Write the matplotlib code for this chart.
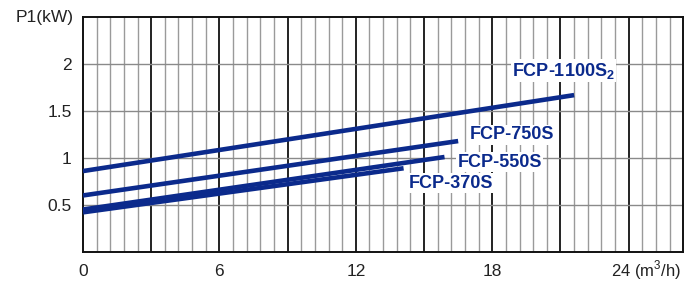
import numpy as np
import matplotlib.pyplot as plt

plt.rcParams['font.family'] = ['Liberation Sans', 'DejaVu Sans']
plt.rcParams['mathtext.fontset'] = 'custom'
plt.rcParams['mathtext.rm'] = 'Liberation Sans'
plt.rcParams['mathtext.bf'] = 'Liberation Sans:bold'

# data (flow m3/h -> P1 kW)
models = ['FCP-370S', 'FCP-550S', 'FCP-750S', 'FCP-1100S$_\\mathbf{2}$']
flow_start = [0, 0, 0, 0]
flow_end = [14.1, 15.9, 16.5, 21.6]
p1_start = [0.42, 0.45, 0.60, 0.86]
p1_end = [0.89, 1.01, 1.18, 1.67]
label_x = [14.32, 16.47, 17.0, 18.88]
label_y = [0.73, 0.955, 1.245, 1.93]

xticks = [0, 6, 12, 18]
yticks = [0.5, 1, 1.5, 2]

navy = '#0b2a8c'
fs = 12.5

fig = plt.figure(figsize=(6.99, 2.82), dpi=100)
ax = fig.add_axes([0.1187, 0.1074, 0.9775 - 0.1187, 0.9387 - 0.1074])
ax.set_xlim(0, 26.4)
ax.set_ylim(0, 2.5)

# grid
for v in np.arange(0.6, 26.4, 0.6):
    if abs(v / 3 - round(v / 3)) < 1e-6:
        ax.axvline(v, color='#111111', lw=1.3, zorder=1)
    else:
        ax.axvline(v, color='#9a9a9a', lw=1.0, zorder=1)
for h in np.arange(0.5, 2.5, 0.5):
    ax.axhline(h, color='#8a8a8a', lw=1.0, zorder=1)

for i in range(len(models)):
    ax.plot([flow_start[i], flow_end[i]], [p1_start[i], p1_end[i]],
            color=navy, lw=3.3, solid_capstyle='butt', zorder=3)
    ax.text(label_x[i], label_y[i], models[i], color=navy, fontsize=13,
            fontweight='bold', ha='left', va='center', zorder=4,
            bbox=dict(facecolor='white', edgecolor='none', pad=1))

ax.set_xticks(xticks)
ax.set_xticklabels([str(t) for t in xticks])
ax.set_yticks(yticks)
ax.set_yticklabels(['0.5', '1', '1.5', '2'])
ax.tick_params(length=0, labelsize=fs, colors='#222222')
ax.tick_params(axis='y', pad=8)
ax.tick_params(axis='x', pad=9)
for s in ax.spines.values():
    s.set_color('#111111')
    s.set_linewidth(1.4)

ax.text(23.22, -0.2, '24 (m$^3$/h)', ha='left', va='center', fontsize=12,
        color='#222222', clip_on=False)
ax.text(-0.4, 2.5, 'P1(kW)', ha='right', va='center', fontsize=fs,
        color='#222222', clip_on=False)

fig.savefig('out.png', dpi=100)
